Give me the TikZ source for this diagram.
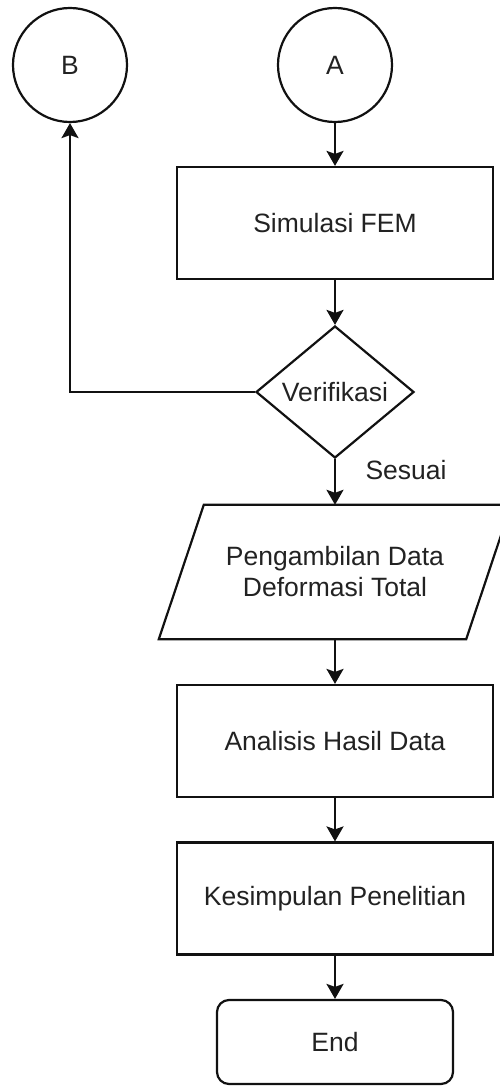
\documentclass[tikz,border=0pt]{standalone}
\usepackage{fontspec}
\setmainfont{Liberation Sans}
\usetikzlibrary{arrows.meta,positioning,shapes.geometric,calc}
\usepackage{xcolor}
\definecolor{ink}{HTML}{222222}
\definecolor{line}{HTML}{111111}
\tikzset{
  box/.style={draw=line, fill=white, line width=2.2pt, align=center,
              font=\fontsize{26.5}{31}\selectfont, text=ink, inner sep=0pt,
              minimum width=316pt, minimum height=112pt},
  conn/.style={box, circle, minimum size=114pt, minimum width=114pt, minimum height=114pt},
  decide/.style={box, diamond, aspect=1.2, minimum width=158pt, minimum height=132pt},
  endbox/.style={box, rounded corners=12pt, minimum width=236pt, minimum height=84pt},
  ar/.style={-{Stealth[length=15pt, width=17pt, inset=3pt]}, line width=2.2pt, draw=line},
  lbl/.style={font=\fontsize{26.5}{31}\selectfont, text=ink}
}

\begin{document}
\begin{tikzpicture}[x=1pt,y=-1pt]
  \useasboundingbox (0,0) rectangle (499,1086);

  \node[conn] (B) at (70,65) {B};
  \node[conn] (A) at (335,65) {A};
  \node[box] (fem) at (335,223) {Simulasi FEM};
  \node[decide] (verif) at (335,392) {Verifikasi};

  % input/output block
  \node[lbl, minimum width=307pt, minimum height=134pt, inner sep=0pt, align=center] (data) at (335,572)
      {Pengambilan Data\\Deformasi Total};
  \draw[draw=line, line width=2.2pt, line join=miter]
      ($(data.south west)+(-22.5,0)$) -- ($(data.north west)+(22.5,0)$)
      -- ($(data.north east)+(22.5,0)$) -- ($(data.south east)+(-22.5,0)$) -- cycle;

  \node[box] (hasil) at (335,741) {Analisis Hasil Data};
  \node[box] (simpul) at (335,898.5) {Kesimpulan Penelitian};
  \node[endbox] (end) at (335,1042) {End};

  \draw[ar] (A) -- (fem);
  \draw[ar] (fem) -- (verif);
  \draw[ar] (verif.west) -| (B.south);
  \draw[ar] (verif.south) -- (data.north);
  \node[lbl, anchor=west] (sesuai) at (362,470) {Sesuai};
  \draw[ar] (data.south) -- (hasil.north);
  \draw[ar] (hasil) -- (simpul);
  \draw[ar] (simpul) -- (end);
\end{tikzpicture}
\end{document}
